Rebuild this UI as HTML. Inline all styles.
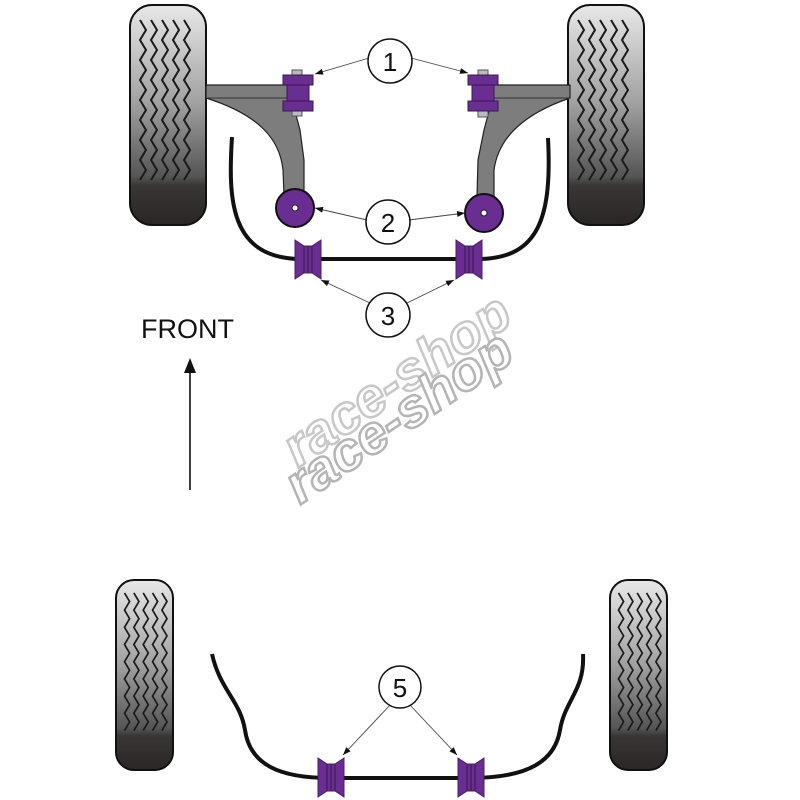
<!DOCTYPE html>
<html><head><meta charset="utf-8"><style>html,body{margin:0;padding:0;background:#fff}svg{display:block}</style></head>
<body>
<svg width="800" height="800" viewBox="0 0 800 800" xmlns="http://www.w3.org/2000/svg">
<defs>
<linearGradient id="tg" x1="0" y1="0" x2="0" y2="1">
<stop offset="0" stop-color="#e8e8e8"/><stop offset="0.45" stop-color="#a0a0a0"/><stop offset="0.78" stop-color="#555"/><stop offset="0.82" stop-color="#3a3636"/><stop offset="1" stop-color="#2a2626"/>
</linearGradient>
<g id="tread" fill="none" stroke="#1a1a1a" stroke-width="2">
<path d="M10,15 l6,10 l-6,10 l6,10 l-6,10 l6,10 l-6,10 l6,10 l-6,10 l6,10 l-6,10 l6,10 l-6,10 l6,10 l-6,10 l6,10 l-6,10"/>
<path d="M21,15 l6,10 l-6,10 l6,10 l-6,10 l6,10 l-6,10 l6,10 l-6,10 l6,10 l-6,10 l6,10 l-6,10 l6,10 l-6,10 l6,10 l-6,10"/>
<path d="M32,15 l6,10 l-6,10 l6,10 l-6,10 l6,10 l-6,10 l6,10 l-6,10 l6,10 l-6,10 l6,10 l-6,10 l6,10 l-6,10 l6,10 l-6,10"/>
<path d="M43,15 l6,10 l-6,10 l6,10 l-6,10 l6,10 l-6,10 l6,10 l-6,10 l6,10 l-6,10 l6,10 l-6,10 l6,10 l-6,10 l6,10 l-6,10"/>
<path d="M54,15 l6,10 l-6,10 l6,10 l-6,10 l6,10 l-6,10 l6,10 l-6,10 l6,10 l-6,10 l6,10 l-6,10 l6,10 l-6,10 l6,10 l-6,10"/>
</g>
<g id="bush">
<path d="M0,0 L9,6 L17,6 L26,0 L26,39 L17,33 L9,33 L0,39 Z" fill="#6a2d91" stroke="#4a1f66" stroke-width="1"/>
<line x1="9" y1="6" x2="9" y2="33" stroke="#3a1850"/><line x1="13" y1="6" x2="13" y2="33" stroke="#3a1850"/><line x1="17" y1="6" x2="17" y2="33" stroke="#3a1850"/>
</g>
<marker id="ah" markerWidth="8" markerHeight="6" refX="8" refY="3" orient="auto" markerUnits="userSpaceOnUse"><path d="M0,0 L8,3 L0,6 Z" fill="#111"/></marker>
</defs>

<g transform="translate(130,5)">
<rect x="0" y="0" width="76" height="220" rx="22" fill="url(#tg)" stroke="#111" stroke-width="2"/>
<use href="#tread"/>
</g>
<g transform="translate(568,5)">
<rect x="0" y="0" width="76" height="220" rx="22" fill="url(#tg)" stroke="#111" stroke-width="2"/>
<use href="#tread"/>
</g>

<path d="M206,85 L290,85 L292,100 L300,130 L304,160 L304,195 L284,195 L283,170 C280,140 260,115 206,98 Z" fill="#7d7d7d" stroke="#222" stroke-width="1.2"/>
<line x1="206" y1="98" x2="290" y2="98" stroke="#333"/>
<rect x="292" y="70" width="10" height="6" fill="#bbb" stroke="#555"/>
<rect x="292" y="110" width="10" height="6" fill="#bbb" stroke="#555"/>
<rect x="283" y="75" width="30" height="10" fill="#6a2d91" stroke="#3a1850"/>
<rect x="287" y="85" width="22" height="16" fill="#6a2d91" stroke="#3a1850"/>
<rect x="283" y="101" width="30" height="10" fill="#6a2d91" stroke="#3a1850"/>
<circle cx="295" cy="208" r="19" fill="#6a2d91" stroke="#111" stroke-width="2"/>
<circle cx="295" cy="208" r="3" fill="#fff" stroke="#222"/>

<path d="M570,85 L494,85 L492,100 L484,130 L478,160 L477,197 L494,197 L494,170 C498,140 520,115 570,98 Z" fill="#7d7d7d" stroke="#222" stroke-width="1.2"/>
<line x1="570" y1="98" x2="494" y2="98" stroke="#333"/>
<rect x="478" y="70" width="10" height="6" fill="#bbb" stroke="#555"/>
<rect x="478" y="111" width="10" height="6" fill="#bbb" stroke="#555"/>
<rect x="468" y="75" width="30" height="10" fill="#6a2d91" stroke="#3a1850"/>
<rect x="472" y="85" width="22" height="16" fill="#6a2d91" stroke="#3a1850"/>
<rect x="468" y="101" width="30" height="10" fill="#6a2d91" stroke="#3a1850"/>
<circle cx="484" cy="213" r="19" fill="#6a2d91" stroke="#111" stroke-width="2"/>
<circle cx="484" cy="213" r="3" fill="#fff" stroke="#222"/>

<path d="M232,137 C228,200 230,258 300,259 L480,259 C540,258 552,215 548,138" fill="none" stroke="#111" stroke-width="4"/>
<use href="#bush" x="295" y="240"/>
<use href="#bush" x="456" y="240"/>

<g fill="none" stroke="#444" stroke-width="0.9">
<line x1="369" y1="58" x2="315" y2="74" marker-end="url(#ah)"/>
<line x1="411" y1="58" x2="468" y2="73" marker-end="url(#ah)"/>
<line x1="367" y1="220" x2="315" y2="208" marker-end="url(#ah)"/>
<line x1="409" y1="220" x2="465" y2="213" marker-end="url(#ah)"/>
<line x1="370" y1="303" x2="321" y2="280" marker-end="url(#ah)"/>
<line x1="407" y1="303" x2="454" y2="280" marker-end="url(#ah)"/>
<line x1="391" y1="704" x2="343" y2="755" marker-end="url(#ah)"/>
<line x1="409" y1="704" x2="457" y2="755" marker-end="url(#ah)"/>
</g>
<g fill="#fff" stroke="#111" stroke-width="1.5">
<circle cx="390" cy="61" r="22"/><circle cx="388" cy="222" r="22"/><circle cx="388" cy="315" r="22"/><circle cx="400" cy="687" r="21"/>
</g>
<g font-family="Liberation Sans, sans-serif" font-size="26" text-anchor="middle" fill="#111">
<text x="390" y="71">1</text><text x="388" y="232">2</text><text x="388" y="325">3</text><text x="400" y="697">5</text>
</g>

<text x="141" y="338" font-family="Liberation Sans, sans-serif" font-size="27" fill="#111">FRONT</text>
<line x1="190" y1="490" x2="190" y2="372" stroke="#111" stroke-width="1.6"/>
<path d="M184,373 L190,358 L196,373 Z" fill="#111"/>

<g font-family="Liberation Sans, sans-serif" font-style="italic" font-weight="bold" font-size="54" fill="#fff" stroke="#c8c8c8" stroke-width="2.5">
<text transform="translate(298,468) rotate(-34)" textLength="262" lengthAdjust="spacingAndGlyphs">race-shop</text>
<text transform="translate(300,505) rotate(-34)" textLength="262" lengthAdjust="spacingAndGlyphs" stroke="#b5b5b5">race-shop</text>
</g>

<g transform="translate(116,580)">
<rect x="0" y="0" width="57" height="190" rx="18" fill="url(#tg)" stroke="#111" stroke-width="2"/>
<g transform="scale(0.85,0.86)"><use href="#tread"/></g>
</g>
<g transform="translate(610,580)">
<rect x="0" y="0" width="57" height="190" rx="18" fill="url(#tg)" stroke="#111" stroke-width="2"/>
<g transform="scale(0.85,0.86)"><use href="#tread"/></g>
</g>

<path d="M212,654 C220,690 240,700 245,730 C250,765 280,778 330,778 L470,778 C530,778 555,760 560,730 C565,700 585,690 583,654" fill="none" stroke="#111" stroke-width="4"/>
<use href="#bush" x="318" y="758"/>
<use href="#bush" x="458" y="758"/>
</svg>
</body></html>
